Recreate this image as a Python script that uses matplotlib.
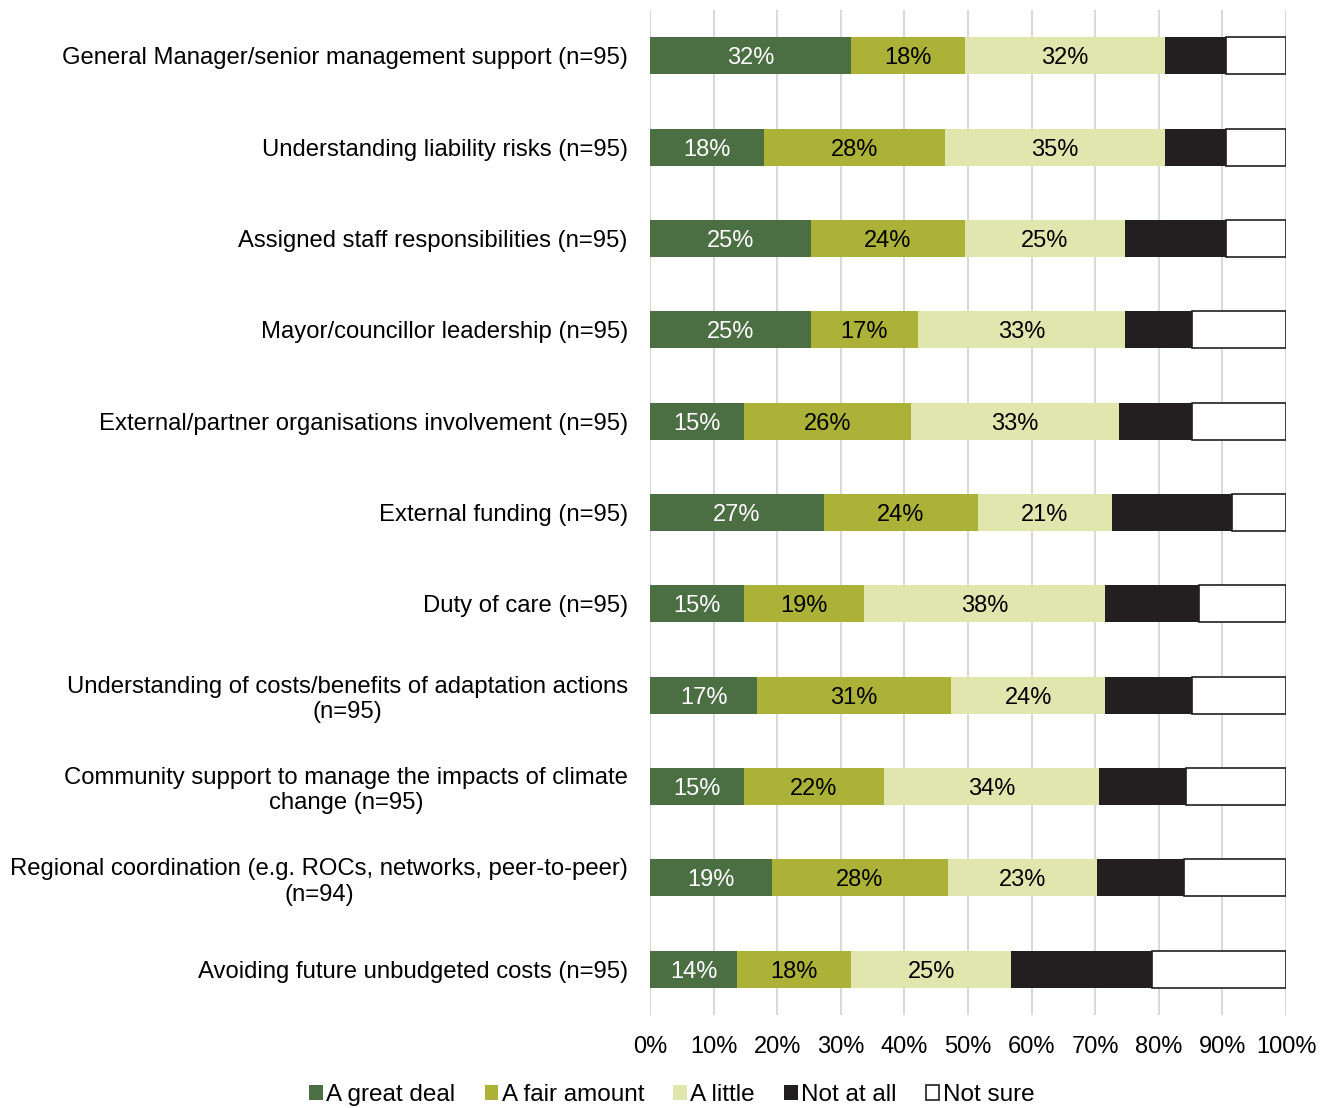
import matplotlib.pyplot as plt
import numpy as np

plt.rcParams['font.family'] = ['Liberation Sans', 'DejaVu Sans']

categories = ['General Manager/senior management support (n=95)',
              'Understanding liability risks (n=95)',
              'Assigned staff responsibilities (n=95)',
              'Mayor/councillor leadership (n=95)',
              'External/partner organisations involvement (n=95)',
              'External funding (n=95)',
              'Duty of care (n=95)',
              'Understanding of costs/benefits of adaptation actions\n(n=95)',
              'Community support to manage the impacts of climate\nchange (n=95)',
              'Regional coordination (e.g. ROCs, networks, peer-to-peer)\n(n=94)',
              'Avoiding future unbudgeted costs (n=95)']

series = ['A great deal', 'A fair amount', 'A little', 'Not at all', 'Not sure']

# percentages
great_deal = [31.58, 17.89, 25.26, 25.26, 14.74, 27.37, 14.74, 16.84, 14.74, 19.15, 13.68]
fair_amount = [17.89, 28.42, 24.21, 16.84, 26.32, 24.21, 18.95, 30.53, 22.11, 27.66, 17.89]
a_little = [31.58, 34.74, 25.26, 32.63, 32.63, 21.05, 37.89, 24.21, 33.68, 23.40, 25.26]
not_at_all = [9.47, 9.47, 15.79, 10.53, 11.58, 18.95, 14.74, 13.68, 13.68, 13.83, 22.11]
not_sure = [9.47, 9.47, 9.47, 14.74, 14.74, 8.42, 13.68, 14.74, 15.79, 15.96, 21.05]

colors = ['#4b6f43', '#abb237', '#e1e6ae', '#231f20', '#ffffff']
label_colors = ['white', 'black', 'black']

fig = plt.figure(figsize=(13.32, 11.08), dpi=100)
ax = fig.add_axes([650/1332, 1-1015/1108, 636/1332, 1005/1108])

y = np.arange(len(categories))
data = [great_deal, fair_amount, a_little, not_at_all, not_sure]
left = np.zeros(len(categories))
for i, vals in enumerate(data):
    vals = np.array(vals)
    bars = ax.barh(y, vals, left=left, height=0.405, color=colors[i],
                   edgecolor='#231f20' if i == 4 else colors[i],
                   linewidth=1.2 if i == 4 else 0, label=series[i], zorder=3)
    if i < 3:
        for b, v in zip(bars, vals):
            ax.text(b.get_x() + b.get_width()/2, b.get_y() + b.get_height()/2,
                    '%d%%' % round(v), ha='center', va='center_baseline',
                    color=label_colors[i], fontsize=17, zorder=4)
    left += vals

ax.set_xlim(0, 100)
ax.set_ylim(len(categories) - 0.5, -0.5)
ax.set_xticks(np.arange(0, 101, 10))
ax.set_xticklabels(['%d%%' % t for t in range(0, 101, 10)], fontsize=17)
ax.set_yticks(y)
ax.set_yticklabels(categories, fontsize=17.2, multialignment='center')
ax.tick_params(axis='both', length=0)
ax.tick_params(axis='y', pad=16)
ax.tick_params(axis='x', pad=15)
for s in ax.spines.values():
    s.set_visible(False)
ax.grid(axis='x', color='#d9d9d9', linewidth=1.5, zorder=0)
ax.set_axisbelow(True)

fig.legend(loc='center', bbox_to_anchor=(672/1332, 1-1095/1108), ncol=5,
           frameon=False, fontsize=17.5, handlelength=0.55, handleheight=0.55,
           handletextpad=0.15, columnspacing=1.2, borderpad=0)

fig.savefig('out.png', dpi=100)
